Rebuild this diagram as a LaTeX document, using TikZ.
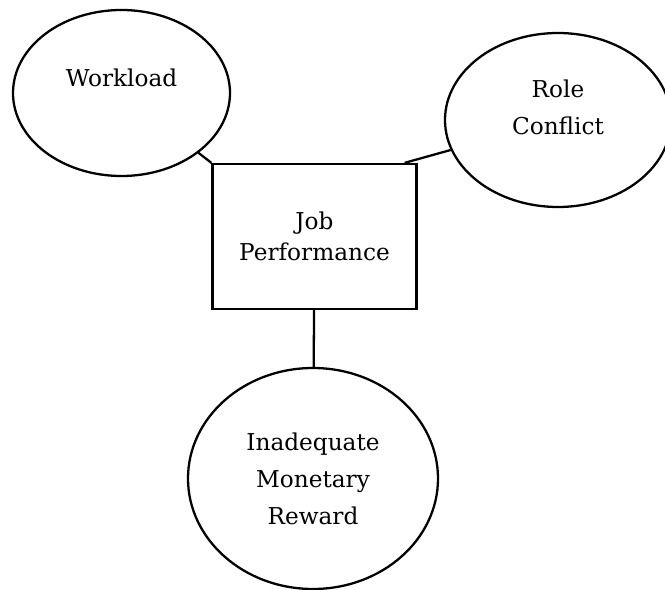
\documentclass[tikz,border=0pt]{standalone}
\usepackage{fontspec}
\setmainfont{DejaVu Serif}
\usetikzlibrary{shapes.geometric}

\begin{document}
\begin{tikzpicture}[
      factor/.style={ellipse, draw=black, line width=1.3pt, inner sep=0pt, align=center, font=\fontsize{13.2}{21}\selectfont},
      outcome/.style={rectangle, draw=black, line width=1.3pt, inner sep=0pt, align=center, font=\fontsize{13.2}{18}\selectfont},
      link/.style={line width=1.3pt}]

\useasboundingbox (0,0) rectangle (13.3,11.8);

\node[outcome, minimum width=4.08cm, minimum height=2.9cm] (jp) at (6.29,7.07) {Job\\Performance};
\node[factor, minimum width=4.34cm, minimum height=3.32cm, text depth=0.61cm] (wl) at (2.43,9.94) {Workload};
\node[factor, minimum width=4.52cm, minimum height=3.48cm, text depth=0.51cm] (rc) at (11.16,9.4) {Role\\Conflict};
\node[factor, minimum width=5.0cm, minimum height=4.42cm] (imr) at (6.26,2.23) {Inadequate\\Monetary\\Reward};

\draw[link] (jp.north west) -- (wl);
\draw[link] ([xshift=-0.26cm]jp.north east) -- (rc);
\draw[link] (jp) -- (imr);

\end{tikzpicture}
\end{document}
